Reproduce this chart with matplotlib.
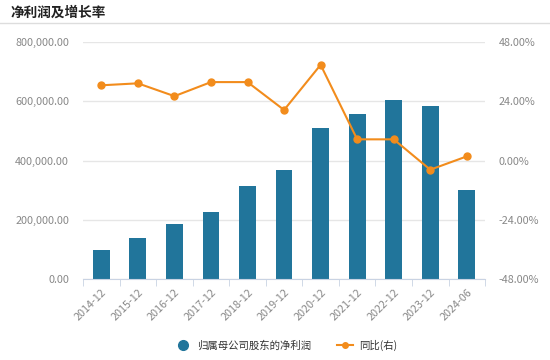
import matplotlib
matplotlib.use("Agg")
import matplotlib.pyplot as plt
from matplotlib.lines import Line2D
import numpy as np

plt.rcParams['font.family'] = ['Noto Sans CJK SC', 'DejaVu Sans']

categories = ["2014-12", "2015-12", "2016-12", "2017-12", "2018-12", "2019-12",
              "2020-12", "2021-12", "2022-12", "2023-12", "2024-06"]
net_profit = [98000, 137000, 186000, 227000, 315000, 367000,
              511000, 557000, 605000, 583000, 299000]
yoy_pct = [30.5, 31.3, 26.1, 31.8, 31.8, 20.5, 38.8, 8.6, 8.6, -3.7, 1.7]

left_ticks = [0, 200000, 400000, 600000, 800000]
right_ticks = [-48, -24, 0, 24, 48]

bar_color = "#21759b"
line_color = "#f28c1c"
tick_color = "#888888"
grid_color = "#e6e6e6"

fig = plt.figure(figsize=(5.5, 3.6), dpi=100)
ax = fig.add_axes([0.151, 0.225, 0.731, 0.658])
ax2 = ax.twinx()

x = np.arange(len(categories))
ax.bar(x, net_profit, width=0.46, color=bar_color, zorder=2)
ax.set_xlim(-0.5, len(categories) - 0.5)
ax.set_ylim(0, 800000)
ax.set_yticks(left_ticks)
ax.set_yticklabels([f"{v:,.2f}" for v in left_ticks])
ax.grid(axis='y', color=grid_color, linewidth=1, zorder=0)
ax.set_axisbelow(True)

ax2.plot(x, yoy_pct, color=line_color, linewidth=1.5, marker='o', markersize=5, zorder=3)
ax2.set_ylim(-48, 48)
ax2.set_yticks(right_ticks)
ax2.set_yticklabels([f"{v:.2f}%" for v in right_ticks])

for a in (ax, ax2):
    for s in ['top', 'left', 'right']:
        a.spines[s].set_visible(False)
    a.spines['bottom'].set_visible(False)
    a.tick_params(axis='y', length=0, colors=tick_color, labelsize=7.8, pad=10)

ax.spines['bottom'].set_visible(True)
ax.spines['bottom'].set_color("#c9d3e3")
ax.set_xticks(x)
ax.set_xticklabels(categories, rotation=45, ha='right', rotation_mode='anchor')
ax.tick_params(axis='x', length=0, colors=tick_color, labelsize=7.8, pad=6)
ax.set_xticks(np.arange(-0.5, len(categories)), minor=True)
ax.tick_params(axis='x', which='minor', length=5, color="#c9d3e3")

# title and separator
fig.text(0.02, 0.965, "净利润及增长率", fontsize=9.8, fontweight='bold', color="#222222",
         va='center', ha='left')
fig.add_artist(Line2D([0, 1], [0.935, 0.935], color="#dddddd", linewidth=1, transform=fig.transFigure))

# legend
handles = [
    Line2D([], [], color=bar_color, marker='o', linestyle='None', markersize=7),
    Line2D([], [], color=line_color, marker='o', linestyle='-', markersize=4, linewidth=1.5),
]
labels = ["归属母公司股东的净利润", "同比(右)"]
fig.legend(handles, labels, loc='center', bbox_to_anchor=(0.52, 0.04), ncol=2, frameon=False,
           fontsize=7.5, handlelength=1.5, columnspacing=2.5, handletextpad=0.6,
           labelcolor="#333333")

fig.savefig("out.png", dpi=100)
